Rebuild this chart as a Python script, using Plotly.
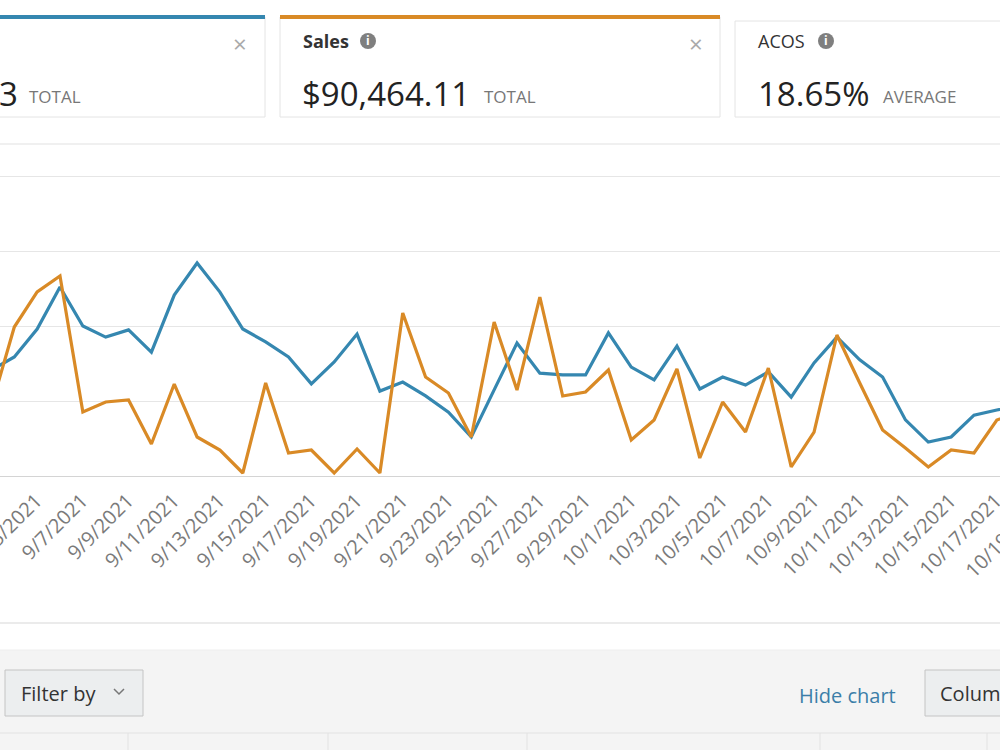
import plotly.graph_objects as go

# ---------------- data ----------------
dates = ["9/4/2021", "9/5/2021", "9/6/2021", "9/7/2021", "9/8/2021", "9/9/2021", "9/10/2021",
         "9/11/2021", "9/12/2021", "9/13/2021", "9/14/2021", "9/15/2021", "9/16/2021",
         "9/17/2021", "9/18/2021", "9/19/2021", "9/20/2021", "9/21/2021", "9/22/2021",
         "9/23/2021", "9/24/2021", "9/25/2021", "9/26/2021", "9/27/2021", "9/28/2021",
         "9/29/2021", "9/30/2021", "10/1/2021", "10/2/2021", "10/3/2021", "10/4/2021",
         "10/5/2021", "10/6/2021", "10/7/2021", "10/8/2021", "10/9/2021", "10/10/2021",
         "10/11/2021", "10/12/2021", "10/13/2021", "10/14/2021", "10/15/2021", "10/16/2021",
         "10/17/2021", "10/18/2021", "10/19/2021"]

spend = [353, 397, 490, 630, 500, 463, 487, 413, 603, 710, 613, 490, 447, 397, 307, 380,
         473, 283, 313, 267, 213, 130, 287, 443, 343, 337, 337, 477, 363, 320, 433, 290,
         330, 303, 347, 263, 377, 463, 387, 330, 187, 113, 130, 203, 220, 237]

sales = [1867, 3973, 4907, 5333, 1707, 1973, 2027, 853, 2453, 1040, 693, 80, 2480, 613,
         693, 80, 720, 80, 4347, 2640, 2213, 1040, 4107, 2293, 4773, 2133, 2240, 2827, 960,
         1493, 2853, 480, 1973, 1173, 2880, 240, 1173, 3760, 2480, 1227, 747, 240, 693, 613,
         1493, 1707]

tick_labels = dates[1::2]

BLUE = "#3587b0"
ORANGE = "#d98a26"

W, H = 1000, 750


def px(x):
    return x / W


def py(y):
    return 1 - y / H


idx = list(range(len(dates)))

fig = go.Figure()
fig.add_trace(go.Scatter(x=idx, y=spend, mode="lines", name="Spend",
                         line=dict(color=BLUE, width=3.2), yaxis="y", hoverinfo="skip"))
fig.add_trace(go.Scatter(x=idx, y=sales, mode="lines", name="Sales",
                         line=dict(color=ORANGE, width=3.2), yaxis="y2", hoverinfo="skip"))

day_px = 22.85
x_first = 3 - 60 / day_px
x_last = 3 + 940 / day_px

ydom = [py(476), py(150)]
grids = (476 - 150) / 75.0
TICK_FONT = dict(size=20, color="#7a7a7a", family="Open Sans")

fig.update_layout(
    width=W, height=H,
    margin=dict(l=0, r=0, t=0, b=0, autoexpand=False),
    paper_bgcolor="white",
    plot_bgcolor="white",
    showlegend=False,
    hovermode=False,
    font=dict(family="Open Sans", color="#333"),
    xaxis=dict(
        domain=[0, 1], range=[x_first, x_last], automargin=False,
        tickmode="array", tickvals=idx[1::2], ticktext=tick_labels,
        tickangle=-45, tickfont=TICK_FONT,
        showgrid=False, zeroline=False,
        showline=True, linecolor="#d4d4d4", linewidth=1,
        ticks="", ticklabelshift=22, ticklabelstandoff=4,
        ticklabeloverflow="allow",
    ),
    yaxis=dict(
        domain=ydom, range=[0, 250 * grids], dtick=250, tick0=0, automargin=False,
        showgrid=True, gridcolor="#e6e6e6", gridwidth=1,
        zeroline=False, showticklabels=False, ticks="",
    ),
    yaxis2=dict(
        overlaying="y", side="right", range=[0, 2000 * grids], automargin=False,
        showgrid=False, zeroline=False, showticklabels=False, ticks="",
    ),
)

shapes = []


def rect(x0, y0, x1, y1, fill, line="rgba(0,0,0,0)", lw=1):
    shapes.append(dict(type="rect", xref="paper", yref="paper",
                       x0=px(x0), x1=px(x1), y0=py(y1), y1=py(y0),
                       fillcolor=fill, line=dict(color=line, width=lw), layer="below"))


def hline(y, x0, x1, color, lw=1):
    shapes.append(dict(type="line", xref="paper", yref="paper",
                       x0=px(x0), x1=px(x1), y0=py(y), y1=py(y),
                       line=dict(color=color, width=lw), layer="below"))


def vline(x, y0, y1, color, lw=1):
    shapes.append(dict(type="line", xref="paper", yref="paper",
                       x0=px(x), x1=px(x), y0=py(y0), y1=py(y1),
                       line=dict(color=color, width=lw), layer="below"))


# metric cards
rect(-10, 17, 265, 117, "white", "#e4e4e4")
rect(-10, 15, 265, 19, BLUE)
rect(280, 17, 720, 117, "white", "#e4e4e4")
rect(280, 15, 720, 19, ORANGE)
rect(735, 21, 1010, 117, "white", "#e4e4e4")

# chart container borders
hline(144, 0, 1000, "#ebebeb", 1.5)
hline(623, 0, 1000, "#e4e4e4", 1.5)

# lower grey toolbar
rect(0, 650, 1000, 750, "#f4f4f4")
hline(650, 0, 1000, "#eeeeee")
hline(733, 0, 1000, "#e2e2e2")
for xv in [128, 328, 527, 820, 987]:
    vline(xv, 733, 750, "#e2e2e2")

# buttons
rect(5, 670, 143, 716, "#eceeef", "#c4c4c4")
rect(925, 670, 1010, 716, "#eceeef", "#c4c4c4")
shapes.append(dict(type="path", xref="paper", yref="paper",
                   path=f"M {px(114)} {py(689)} L {px(119)} {py(694)} L {px(124)} {py(689)}",
                   line=dict(color="#777", width=1.5), layer="above"))

# info icons
for cx in [368, 826]:
    shapes.append(dict(type="circle", xref="paper", yref="paper",
                       x0=px(cx - 8), x1=px(cx + 8), y0=py(49), y1=py(33),
                       fillcolor="#7f7f7f", line=dict(width=0), layer="above"))

fig.update_layout(shapes=shapes)

ann = []


def text(x, y, s, size, color="#333", anchor="left", bold=False, family="Open Sans"):
    if bold:
        s = f"<b>{s}</b>"
    ann.append(dict(xref="paper", yref="paper", x=px(x), y=py(y), text=s,
                    showarrow=False, xanchor=anchor, yanchor="middle",
                    font=dict(size=size, color=color, family=family)))


# card 1 (cut)
text(20, 93, "3", 33, "#222", anchor="right")
text(27, 97, "TOTAL", 17, "#777")
text(240, 43, "×", 24, "#aaa", anchor="center")
# card 2
text(301, 41, "Sales", 18, "#333", bold=True)
text(368, 41, "<b>i</b>", 12, "white", anchor="center")
text(300, 93, "$90,464.11", 33, "#222")
text(482, 97, "TOTAL", 17, "#777")
text(696, 43, "×", 24, "#aaa", anchor="center")
# card 3
text(756, 41, "ACOS", 18, "#333")
text(826, 41, "<b>i</b>", 12, "white", anchor="center")
text(756, 93, "18.65%", 33, "#222")
text(881, 97, "AVERAGE", 17, "#777")
# toolbar
text(19, 693, "Filter by", 20, "#333")
text(797, 695, "Hide chart", 20, "#3b7ea8")
text(938, 693, "Colum", 20, "#333")

# last date label lies just past the visible axis range (partly cut off, as in the source)
ann.append(dict(xref="paper", yref="paper", x=px(960 + 2 * day_px), y=py(536),
                text=tick_labels[-1], textangle=-45, showarrow=False,
                xanchor="center", yanchor="middle", font=TICK_FONT))

fig.update_layout(annotations=ann)

fig.write_html("out.html")
